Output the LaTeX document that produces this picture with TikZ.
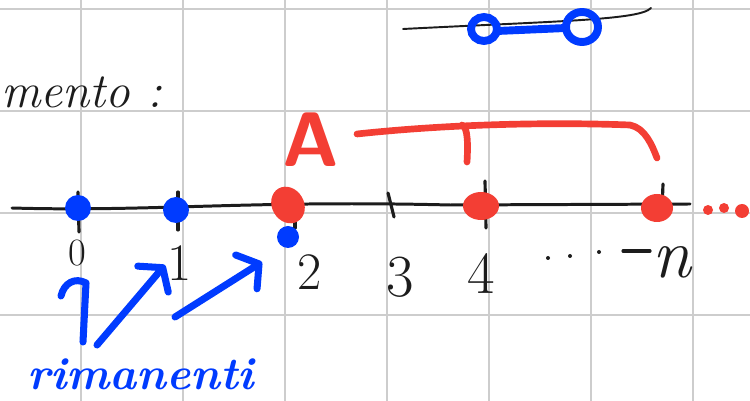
\documentclass[tikz,border=0pt]{standalone}
\usetikzlibrary{arrows.meta}
\definecolor{inkblue}{RGB}{0,59,255}
\definecolor{inkred}{RGB}{243,62,52}
\definecolor{ink}{RGB}{28,28,28}
\definecolor{gridgray}{RGB}{205,205,205}
\begin{document}
\begin{tikzpicture}[
    x=0.02cm, y=-0.02cm,
    gridline/.style={draw=gridgray, line width=1.4pt},
    axisline/.style={draw=ink, line width=1.7pt, line cap=round},
    tickmark/.style={draw=ink, line width=1.8pt, line cap=round},
    num/.style={text=ink, inner sep=0pt, font=\fontsize{34}{34}\selectfont},
    word/.style={inner sep=0pt, font=\fontsize{28}{28}\selectfont\itshape},
    brace/.style={draw=inkred, line width=3.8pt, line cap=round, line join=round},
    bluestroke/.style={draw=inkblue, line width=4pt, line cap=round, line join=round},
    bluearrow/.style={bluestroke, -{Straight Barb[length=3mm, width=8mm, round]}}
  ]
  \useasboundingbox (0,0) rectangle (750,401);

  % quaderno a quadretti
  \foreach \gx in {81,183,...,693} \draw[gridline] (\gx,0) -- (\gx,401);
  \foreach \gy in {9,111,213,315} \draw[gridline] (0,\gy) -- (750,\gy);

  % intervallo in alto
  \draw[ink, line width=1.1pt, line cap=round] (403,29) .. controls (560,21) and (640,20) .. (651,8);
  \draw[inkblue, line width=4.5pt, line cap=round] (497,31) -- (566,28);
  \draw[inkblue, line width=4.5pt] (484,29) ellipse [x radius=13, y radius=12];
  \draw[inkblue, line width=4.5pt] (582,27) ellipse [x radius=16, y radius=15];

  \node[word, text=ink, anchor=base west] (title) at (1,108) {mento :};
  \node[text=inkred, inner sep=0pt, font=\fontsize{44}{44}\selectfont\sffamily\bfseries] (setA) at (311,140) {A};

  % parentesi di A
  \coordinate (braceL) at (357,134);
  \coordinate (braceR) at (657,158);
  \draw[brace] (braceL) .. controls (450,124) and (550,122) .. (630,125)
    .. controls (645,128) and (652,145) .. (braceR);
  \draw[brace] (462,125) .. controls (468,127) and (468,145) .. (467,162);

  % retta dei numeri
  \coordinate (axL) at (12,208);
  \coordinate (axR) at (690,204);
  \draw[axisline] (axL) .. controls (150,212) and (250,200) .. (450,205) -- (axR);

  \draw[tickmark] (78,192) -- (79,232);
  \draw[tickmark] (178,192) -- (178,230);
  \draw[tickmark] (295,213) -- (295,228);
  \draw[tickmark] (388,193) -- (394,217);
  \draw[tickmark] (485,181) -- (486,228);
  \draw[tickmark] (663,184) -- (662,210);

  \fill[inkblue] (78,208) circle [radius=13];
  \fill[inkblue] (176,210) circle [radius=13];
  \fill[inkred, rotate around={30:(288,205)}] (288,205) ellipse [x radius=16, y radius=19];
  \fill[inkblue] (288,237) circle [radius=11];
  \fill[inkred] (481,206) ellipse [x radius=18, y radius=14];
  \fill[inkred] (657,208) ellipse [x radius=16, y radius=14];
  \fill[inkred] (708,210) circle [radius=5];
  \fill[inkred] (724,208) circle [radius=5];
  \fill[inkred] (742,211) circle [radius=7];

  \node[num, font=\fontsize{22}{22}\selectfont] (n0) at (77,253) {0};
  \node[num, font=\fontsize{30}{30}\selectfont] (n1) at (180,263) {1};
  \node[num, font=\fontsize{30}{30}\selectfont] (n2) at (310,272) {2};
  \node[num] (n3) at (400,277) {3};
  \node[num] (n4) at (481,274) {4};
  \node[num, font=\fontsize{40}{40}\selectfont\itshape] (nn) at (672,262) {n};
  \foreach \dx/\dy in {548/258, 570/256, 599/252} \fill[ink] (\dx,\dy) circle [radius=2];
  \draw[ink, line width=1.8pt, line cap=round] (623,251) -- (650,251);

  % elementi rimanenti
  \node[word, text=inkblue, anchor=base west, font=\fontsize{26}{26}\selectfont\bfseries\itshape] (rest) at (27,390) {rimanenti};
  \coordinate (a0) at (83,342);
  \coordinate (b0) at (86,283);
  \coordinate (a1) at (97,345);
  \coordinate (b1) at (165,265);
  \coordinate (a2) at (175,317);
  \coordinate (b2) at (262,262);
  \draw[bluestroke] (a0) -- (b0);
  \draw[bluestroke] (61,296) .. controls (64,283) and (75,277) .. (b0);
  \draw[bluearrow] (a1) -- (b1);
  \draw[bluearrow] (a2) -- (b2);
\end{tikzpicture}
\end{document}
